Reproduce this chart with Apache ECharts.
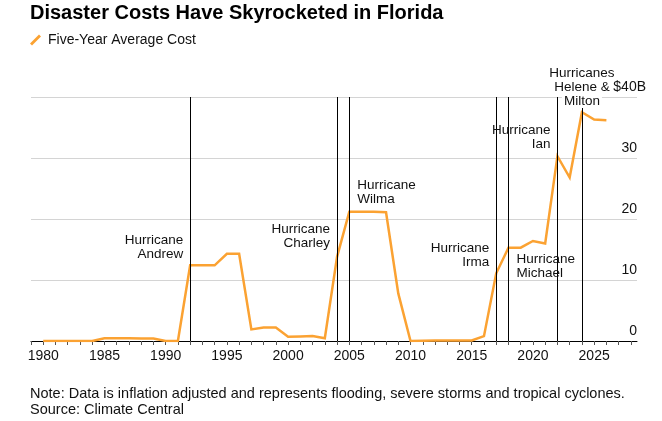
<!DOCTYPE html>
<html>
<head>
<meta charset="utf-8">
<script src="https://cdn.jsdelivr.net/npm/echarts@6/dist/echarts.min.js"></script>
<style>
html,body{margin:0;padding:0;background:#fff;}
#chart{width:662px;height:421px;}
</style>
</head>
<body>
<div id="chart"></div>
<script>
// ---- data ----
const years = [1980,1981,1982,1983,1984,1985,1986,1987,1988,1989,1990,1991,1992,1993,1994,1995,1996,1997,1998,1999,2000,2001,2002,2003,2004,2005,2006,2007,2008,2009,2010,2011,2012,2013,2014,2015,2016,2017,2018,2019,2020,2021,2022,2023,2024,2025,2026];
const avgCost = [0,0,0,0,0,0.45,0.45,0.45,0.4,0.4,0,0,12.4,12.4,12.4,14.3,14.3,1.9,2.2,2.2,0.7,0.75,0.8,0.45,13.8,21.2,21.2,21.2,21.1,7.8,0,0.05,0.1,0.1,0.1,0.1,0.8,11.1,15.3,15.3,16.4,16.0,30.3,26.8,37.5,36.3,36.2];
const hurricaneYears = [1992,2004,2005,2017,2018,2022,2024];
const hurricaneNames = ['Hurricane\nAndrew','Hurricane\nCharley','Hurricane\nWilma','Hurricane\nIrma','Hurricane\nMichael','Hurricane\nIan','Hurricanes\nHelene &\n{m|Milton}'];
const xTickLabels = [1980,1985,1990,1995,2000,2005,2010,2015,2020,2025];
const yTickLabels = [0,10,20,30,40];

// ---- layout for annotation labels (style, not data) ----
const labelLayout = [
  {y:15.4, side:'left'},
  {y:17.1, side:'left'},
  {y:24.4, side:'right'},
  {y:14.1, side:'left'},
  {y:12.2, side:'right'},
  {y:33.4, side:'left'},
  {y:40, side:'inside', offset:[0,-10]}
];

const FONT = '"Liberation Sans", Arial, Helvetica, sans-serif';
const ORANGE = '#fba232';
const chart = echarts.init(document.getElementById('chart'), null, {renderer:'canvas'});

const tickYears = [];
for (let y = 1979; y <= 2028; y++) tickYears.push(y);

const markPoints = hurricaneYears.map((yr, i) => {
  const L = labelLayout[i];
  const label = {
    show: true,
    formatter: hurricaneNames[i],
    fontFamily: FONT, fontSize: 13.5, lineHeight: 14, color: '#111'
  };
  if (L.side === 'left') { label.position = 'left'; label.distance = 7; label.align = 'right'; }
  else if (L.side === 'right') { label.position = 'right'; label.distance = 8; label.align = 'left'; }
  else {
    label.position = 'inside'; label.align = 'center'; label.verticalAlign = 'middle'; label.offset = L.offset;
    label.rich = {m: {backgroundColor: '#fff', fontFamily: FONT, fontSize: 13.5, lineHeight: 14, color: '#111', padding: [0,2,0,2]}};
  }
  return { coord: [yr, L.y], label: label, symbolSize: 0, itemStyle:{color:'rgba(0,0,0,0)'} };
});

const option = {
  animation: false,
  backgroundColor: '#fff',
  title: {
    text: 'Disaster Costs Have Skyrocketed in Florida',
    left: 30, top: 3, padding: 0,
    textStyle: {fontFamily: FONT, fontSize: 20, fontWeight: 'bold', color: '#000'}
  },
  legend: {
    left: 30, top: 33, padding: 0,
    itemWidth: 11, itemHeight: 11,
    icon: 'path://M0,9 L9,0 L11,2 L2,11 Z',
    textStyle: {fontFamily: FONT, fontSize: 14, color: '#111', padding:[0,0,0,2]},
    data: ['Five-Year Average Cost']
  },
  grid: {left: 31, right: 25, top: 97, bottom: 80, containLabel: false},
  xAxis: {
    type: 'value', min: 1979, max: 2028.5, interval: 1,
    axisLine: {show: true, lineStyle: {color: '#000', width: 1}},
    axisTick: {show: true, length: 4, lineStyle: {color: '#555'}, customValues: tickYears},
    axisLabel: {
      fontFamily: FONT, fontSize: 14, color: '#111', margin: 8,
      customValues: xTickLabels,
      formatter: v => (xTickLabels.indexOf(v) >= 0 ? String(v) : '')
    },
    splitLine: {show: false}
  },
  yAxis: [
    {
      type: 'value', min: 0, max: 40, interval: 10, position: 'right',
      axisLine: {show: false}, axisTick: {show: false},
      splitLine: {show: true, lineStyle: {color: '#d4d4d4', width: 1}},
      axisLabel: {
        inside: true, margin: 0, align: 'right', verticalAlign: 'bottom',
        padding: [0,0,3,0],
        fontFamily: FONT, fontSize: 14, color: '#111',
        formatter: v => (v === 40 ? '' : (yTickLabels.indexOf(v) >= 0 ? String(v) : ''))
      }
    },
    {
      type: 'value', min: 0, max: 40, interval: 10, position: 'right', offset: 9,
      axisLine: {show: false}, axisTick: {show: false}, splitLine: {show: false},
      axisLabel: {
        inside: true, margin: 0, align: 'right', verticalAlign: 'bottom',
        padding: [0,0,3,0],
        fontFamily: FONT, fontSize: 14, color: '#111',
        formatter: v => (v === 40 ? '$40B' : '')
      }
    }
  ],
  series: [{
    name: 'Five-Year Average Cost',
    type: 'line',
    data: years.map((y, i) => [y, avgCost[i]]),
    showSymbol: false, symbol: 'none',
    lineStyle: {color: ORANGE, width: 2.5, join: 'miter'},
    itemStyle: {color: ORANGE},
    z: 2,
    markLine: {
      silent: true, symbol: ['none','none'],
      label: {show: false},
      lineStyle: {color: '#000', width: 1, type: 'solid'},
      emphasis: {disabled: true},
      data: hurricaneYears.map(y => ({xAxis: y}))
    },
    markPoint: {
      silent: true,
      symbol: 'circle',
      data: markPoints
    }
  }],
  graphic: [
    {type: 'text', left: 30, top: 386, style: {text: 'Note: Data is inflation adjusted and represents flooding, severe storms and tropical cyclones.', font: '14.5px ' + FONT, fill: '#111'}},
    {type: 'text', left: 30, top: 402, style: {text: 'Source: Climate Central', font: '14.5px ' + FONT, fill: '#111'}}
  ]
};
chart.setOption(option);
</script>
</body>
</html>
